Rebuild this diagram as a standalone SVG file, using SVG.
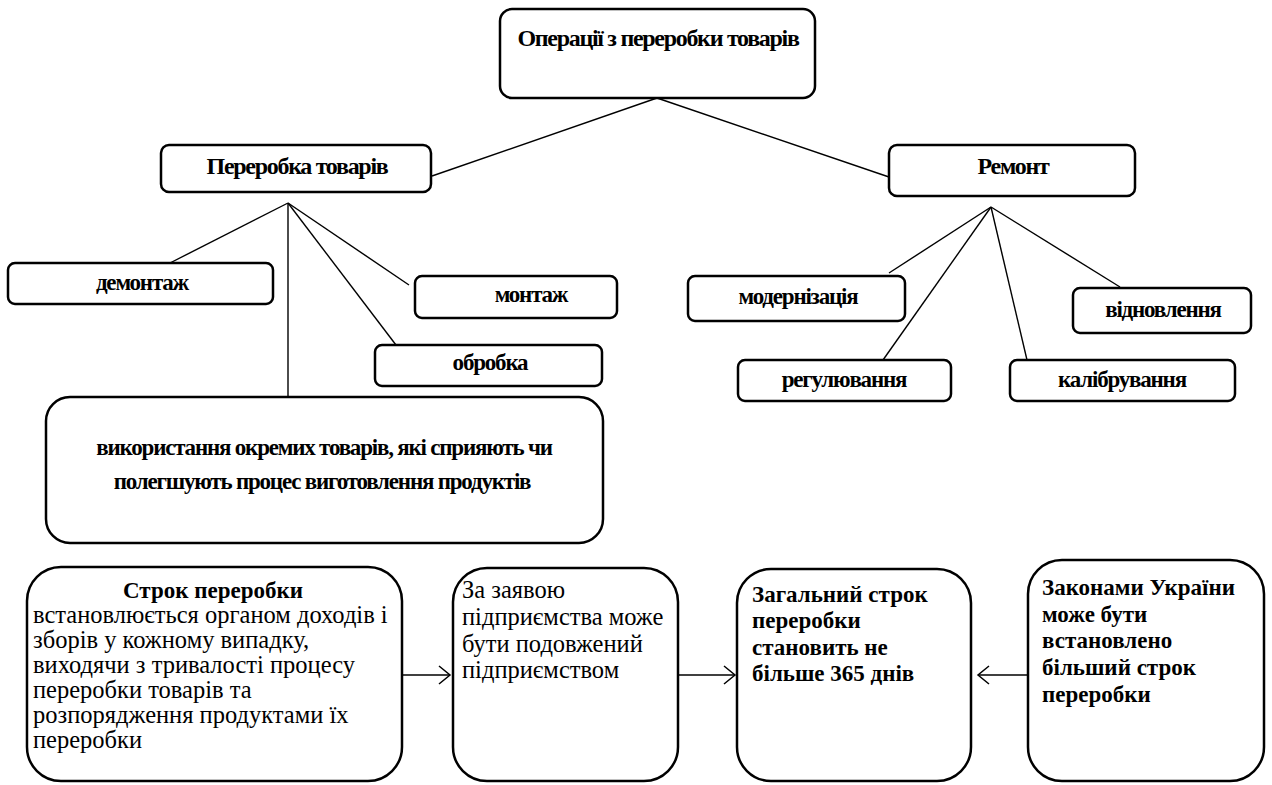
<svg xmlns="http://www.w3.org/2000/svg" width="1272" height="785" viewBox="0 0 1272 785">
<style>
.box{fill:#fff;stroke:#000;stroke-width:2.5}
.ln{stroke:#000;stroke-width:1.4;fill:none}
.hd{font-family:"Liberation Serif","Times New Roman",serif;font-weight:bold;font-size:24px;letter-spacing:-1.3px;text-anchor:middle}
.sm{font-family:"Liberation Serif","Times New Roman",serif;font-weight:bold;font-size:23px;letter-spacing:-1.2px;text-anchor:middle}
.rg{font-family:"Liberation Serif","Times New Roman",serif;font-size:24.5px}
.bd{font-family:"Liberation Serif","Times New Roman",serif;font-size:23px;font-weight:bold}
</style>
<defs>
<marker id="ah" markerWidth="14" markerHeight="20" refX="12" refY="10" orient="auto" markerUnits="userSpaceOnUse">
<path d="M1,1 L12,10 L1,19" fill="none" stroke="#000" stroke-width="1.5"/>
</marker>
</defs>
<rect width="1272" height="785" fill="#fff"/>
<g id="connectors">
<line class="ln" x1="657" y1="98" x2="432" y2="176"/>
<line class="ln" x1="657" y1="98" x2="889" y2="177"/>
<line class="ln" x1="288" y1="203" x2="170" y2="263"/>
<line class="ln" x1="288" y1="203" x2="288" y2="397"/>
<line class="ln" x1="288" y1="203" x2="396" y2="345"/>
<line class="ln" x1="288" y1="203" x2="409" y2="285"/>
<line class="ln" x1="991" y1="207" x2="889" y2="273"/>
<line class="ln" x1="991" y1="207" x2="883" y2="360"/>
<line class="ln" x1="991" y1="207" x2="1027" y2="360"/>
<line class="ln" x1="991" y1="207" x2="1120" y2="287"/>
<line class="ln" x1="394" y1="675" x2="450" y2="675" marker-end="url(#ah)"/>
<line class="ln" x1="678" y1="675" x2="735" y2="675" marker-end="url(#ah)"/>
<line class="ln" x1="1032" y1="675" x2="978" y2="675" marker-end="url(#ah)"/>
</g>
<g id="n-top"><rect class="box" x="500" y="9" width="315" height="89" rx="12"/><text class="hd" x="658" y="46">Операції з переробки товарів</text></g>
<g id="n-pererobka"><rect class="box" x="161" y="145" width="270" height="47" rx="8"/><text class="hd" x="297" y="174">Переробка товарів</text></g>
<g id="n-remont"><rect class="box" x="889" y="145" width="246" height="51" rx="8"/><text class="hd" x="1013" y="174">Ремонт</text></g>
<g id="n-demontazh"><rect class="box" x="8" y="263" width="265" height="41" rx="7"/><text class="sm" x="142" y="290">демонтаж</text></g>
<g id="n-montazh"><rect class="box" x="415" y="276" width="202" height="42" rx="7"/><text class="sm" x="531" y="302">монтаж</text></g>
<g id="n-obrobka"><rect class="box" x="375" y="345" width="227" height="41" rx="7"/><text class="sm" x="490" y="370">обробка</text></g>
<g id="n-vykorystannia"><rect class="box" x="46" y="397" width="557" height="146" rx="24"/><text class="sm" x="324" y="455">використання окремих товарів, які сприяють чи</text><text class="sm" x="322" y="489">полегшують процес виготовлення продуктів</text></g>
<g id="n-modern"><rect class="box" x="688" y="276" width="217" height="45" rx="7"/><text class="sm" x="798" y="304">модернізація</text></g>
<g id="n-vidnovl"><rect class="box" x="1073" y="288" width="178" height="45" rx="7"/><text class="sm" x="1163" y="317">відновлення</text></g>
<g id="n-rehul"><rect class="box" x="738" y="360" width="213" height="41" rx="7"/><text class="sm" x="844" y="387">регулювання</text></g>
<g id="n-kalibr"><rect class="box" x="1010" y="360" width="225" height="41" rx="7"/><text class="sm" x="1122" y="387">калібрування</text></g>
<g id="n-strok"><rect class="box" x="27" y="567" width="375" height="214" rx="34"/>
<text class="bd" x="213" y="598" text-anchor="middle">Строк переробки</text>
<text class="rg" x="33" y="623">встановлюється органом доходів і</text>
<text class="rg" x="33" y="648">зборів у кожному випадку,</text>
<text class="rg" x="33" y="673">виходячи з тривалості процесу</text>
<text class="rg" x="33" y="698">переробки товарів та</text>
<text class="rg" x="33" y="723">розпорядження продуктами їх</text>
<text class="rg" x="33" y="748">переробки</text></g>
<g id="n-zaiava"><rect class="box" x="453" y="568" width="225" height="213" rx="34"/>
<text class="rg" x="462" y="598">За заявою</text>
<text class="rg" x="462" y="625">підприємства може</text>
<text class="rg" x="462" y="652">бути подовжений</text>
<text class="rg" x="462" y="678">підприємством</text></g>
<g id="n-zahalnyi"><rect class="box" x="737" y="569" width="234" height="212" rx="34"/>
<text class="bd" x="752" y="602">Загальний строк</text>
<text class="bd" x="752" y="628">переробки</text>
<text class="bd" x="752" y="655">становить не</text>
<text class="bd" x="752" y="681">більше 365 днів</text></g>
<g id="n-zakonamy"><rect class="box" x="1028" y="560" width="236" height="221" rx="34"/>
<text class="bd" x="1042" y="595">Законами України</text>
<text class="bd" x="1042" y="622">може бути</text>
<text class="bd" x="1042" y="648">встановлено</text>
<text class="bd" x="1042" y="675">більший строк</text>
<text class="bd" x="1042" y="702">переробки</text></g>
</svg>
